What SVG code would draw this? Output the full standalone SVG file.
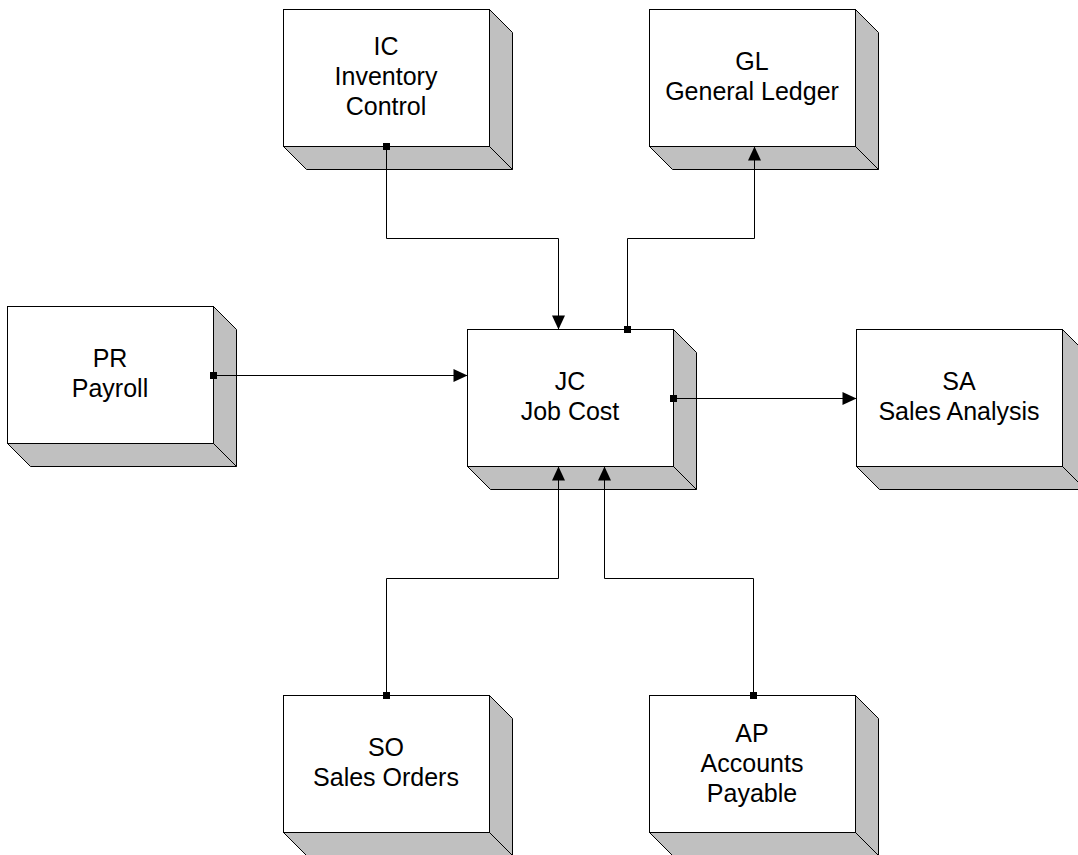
<svg xmlns="http://www.w3.org/2000/svg" xmlns:xlink="http://www.w3.org/1999/xlink" width="1078" height="855" viewBox="0 0 1078 855">
<style>
.lbl{font-family:"Liberation Sans",Arial,sans-serif;font-size:25px;fill:#000;text-anchor:middle}
.conn{fill:none;stroke:#000;stroke-width:1;marker-start:url(#dot);marker-end:url(#arr)}
</style>
<defs>
<g id="box">
<path d="M0,137 L23,160 L229,160 L229,23 L206,0 L206,137 Z" fill="#c0c0c0" stroke="#000" stroke-width="1"/>
<rect x="0" y="0" width="206" height="137" fill="#fff" stroke="#000" stroke-width="1"/>
<line x1="206" y1="137" x2="229" y2="160" stroke="#000" stroke-width="1"/>
</g>
<marker id="arr" markerUnits="userSpaceOnUse" markerWidth="14" markerHeight="13" refX="14" refY="6.5" orient="auto" overflow="visible">
<path d="M0,0 L14,6.5 L0,13 Z" fill="#000"/>
</marker>
<marker id="dot" markerUnits="userSpaceOnUse" markerWidth="7" markerHeight="7" refX="3.5" refY="3.5" orient="auto" overflow="visible">
<rect x="0" y="0" width="7" height="7" fill="#000"/>
</marker>
</defs>
<rect width="1078" height="855" fill="#fff"/>
<g id="IC">
<use xlink:href="#box" x="283.5" y="9.5"/>
<text class="lbl" x="386" y="55">IC</text>
<text class="lbl" x="386" y="85">Inventory</text>
<text class="lbl" x="386" y="115">Control</text>
</g>
<g id="GL">
<use xlink:href="#box" x="649.5" y="9.5"/>
<text class="lbl" x="752" y="70">GL</text>
<text class="lbl" x="752" y="100">General Ledger</text>
</g>
<g id="PR">
<use xlink:href="#box" x="7.5" y="306.5"/>
<text class="lbl" x="110" y="367">PR</text>
<text class="lbl" x="110" y="397">Payroll</text>
</g>
<g id="JC">
<use xlink:href="#box" x="467.5" y="329.5"/>
<text class="lbl" x="570" y="390">JC</text>
<text class="lbl" x="570" y="420">Job Cost</text>
</g>
<g id="SA">
<use xlink:href="#box" x="856.5" y="329.5"/>
<text class="lbl" x="959" y="390">SA</text>
<text class="lbl" x="959" y="420">Sales Analysis</text>
</g>
<g id="SO">
<use xlink:href="#box" x="283.5" y="695.5"/>
<text class="lbl" x="386" y="756">SO</text>
<text class="lbl" x="386" y="786">Sales Orders</text>
</g>
<g id="AP">
<use xlink:href="#box" x="649.5" y="695.5"/>
<text class="lbl" x="752" y="742">AP</text>
<text class="lbl" x="752" y="772">Accounts</text>
<text class="lbl" x="752" y="802">Payable</text>
</g>
<g id="connectors">
<path class="conn" d="M386.5,146.5 V238.5 H558.5 V329.5"/>
<path class="conn" d="M627.5,329.5 V238.5 H754.5 V146.5"/>
<path class="conn" d="M213.5,375.5 H467.5"/>
<path class="conn" d="M673.5,398.5 H856.5"/>
<path class="conn" d="M386.5,695.5 V578.5 H558.5 V466.5"/>
<path class="conn" d="M753.5,695.5 V578.5 H604.5 V466.5"/>
</g>
</svg>
